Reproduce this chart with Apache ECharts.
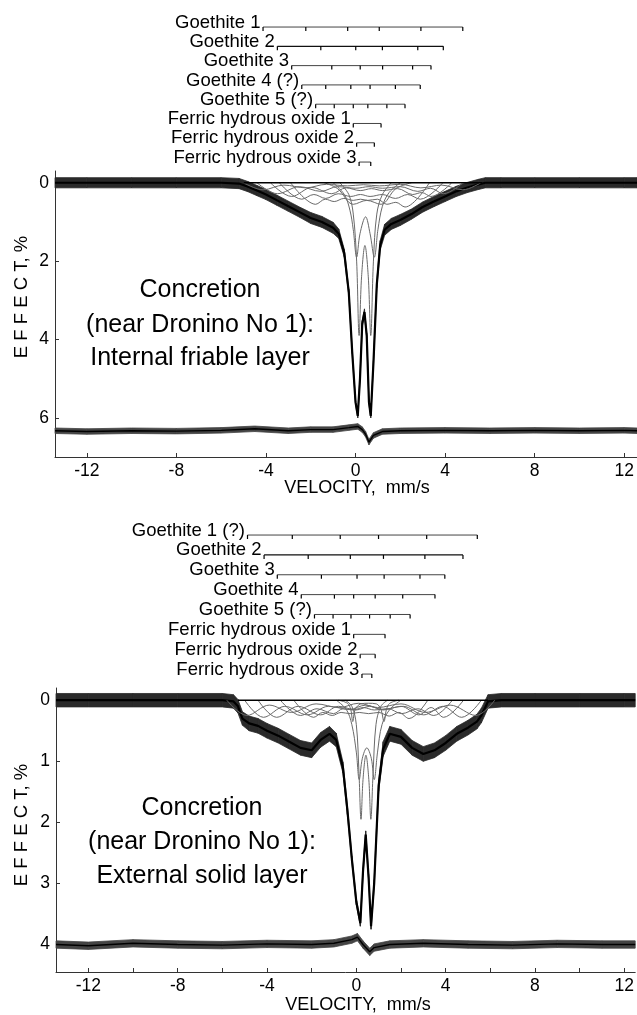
<!DOCTYPE html>
<html><head><meta charset="utf-8">
<script src="https://cdn.jsdelivr.net/npm/echarts@6/dist/echarts.min.js"></script>
<style>html,body{margin:0;padding:0;background:#fff}#c{width:637px;height:1015px}</style>
</head><body><div id="c"></div>
<script>
// ---------------- DATA ----------------
const velLabels = [-12, -8, -4, 0, 4, 8, 12];
const velTicks2 = [-12, -10, -8, -6, -4, -2, 0, 2, 4, 6, 8, 10, 12];
const effTicks1 = [0, 2, 4, 6];
const effTicks2 = [0, 1, 2, 3, 4];

// Stick diagrams (line positions, mm/s) — panel 1 (internal friable layer)
const stickNames1 = ['Goethite 1', 'Goethite 2', 'Goethite 3', 'Goethite 4 (?)', 'Goethite 5 (?)',
  'Ferric hydrous oxide 1', 'Ferric hydrous oxide 2', 'Ferric hydrous oxide 3'];
const p1G1 = [-4.13, -2.22, -0.35, 1.06, 2.92, 4.79];
const p1G2 = [-3.49, -1.55, 0.01, 1.20, 2.78, 3.92];
const p1G3 = [-2.85, -1.06, 0.21, 1.21, 2.55, 3.37];
const p1G4 = [-2.40, -1.33, -0.21, 0.65, 1.78, 2.89];
const p1G5 = [-1.78, -0.95, -0.10, 0.55, 1.40, 2.21];
const p1F1 = [-0.10, 1.14];
const p1F2 = [0.05, 0.84];
const p1F3 = [0.16, 0.68];

// Stick diagrams — panel 2 (external solid layer)
const stickNames2 = ['Goethite 1 (?)', 'Goethite 2', 'Goethite 3', 'Goethite 4', 'Goethite 5 (?)',
  'Ferric hydrous oxide 1', 'Ferric hydrous oxide 2', 'Ferric hydrous oxide 3'];
const p2G1 = [-4.90, -2.90, -0.76, 0.95, 3.10, 5.36];
const p2G2 = [-4.16, -2.19, -0.31, 1.17, 3.02, 4.72];
const p2G3 = [-3.57, -1.60, -0.01, 1.20, 2.80, 3.91];
const p2G4 = [-2.50, -1.02, -0.16, 0.80, 2.03, 3.47];
const p2G5 = [-1.91, -1.08, -0.28, 0.55, 1.47, 2.36];
const p2F1 = [-0.16, 1.24];
const p2F2 = [0.13, 0.80];
const p2F3 = [0.21, 0.65];

// Experimental spectrum, panel 1 (velocity, effect %) and scatter half-width of the points
const vel1 = [-13.42, -12, -10, -8, -6, -5.2, -4.8, -4.4, -4.0, -3.5, -3.0, -2.5, -2.0, -1.5, -1.0, -0.75, -0.5, -0.3, -0.15, 0.0, 0.1, 0.2, 0.3, 0.4, 0.5, 0.6, 0.68, 0.8, 0.95, 1.1, 1.3, 1.6, 2.0, 2.5, 3.0, 3.5, 4.0, 4.5, 5.0, 5.5, 5.8, 6.5, 8, 10, 12, 12.57];
const eff1 = [0, 0, 0, 0, 0, 0.02, 0.1, 0.2, 0.3, 0.45, 0.6, 0.75, 0.9, 1.0, 1.15, 1.3, 1.8, 2.8, 4.3, 5.6, 5.95, 5.0, 3.6, 3.3, 3.9, 5.6, 5.95, 4.6, 2.6, 1.6, 1.2, 1.05, 0.95, 0.8, 0.62, 0.48, 0.35, 0.22, 0.12, 0.04, 0, 0, 0, 0, 0, 0];
const noise1 = [0.13, 0.13, 0.13, 0.13, 0.13, 0.13, 0.13, 0.13, 0.13, 0.13, 0.13, 0.13, 0.14, 0.14, 0.14, 0.12, 0.1, 0.08, 0.06, 0.05, 0.05, 0.06, 0.08, 0.08, 0.06, 0.05, 0.05, 0.06, 0.08, 0.12, 0.14, 0.14, 0.14, 0.13, 0.13, 0.13, 0.13, 0.13, 0.13, 0.13, 0.13, 0.13, 0.13, 0.13, 0.13, 0.13];
// Residual, panel 1
const resV1 = [-13.42, -12, -10, -8, -6, -4.5, -3, -2, -1, -0.3, 0.1, 0.3, 0.45, 0.6, 0.8, 1.2, 2, 4, 6, 8, 10, 12, 12.57];
const res1 = [6.33, 6.35, 6.33, 6.34, 6.32, 6.28, 6.33, 6.30, 6.30, 6.25, 6.22, 6.30, 6.42, 6.62, 6.45, 6.35, 6.33, 6.32, 6.33, 6.32, 6.33, 6.32, 6.33];
const resN1 = 0.07;
// Sub-spectra, panel 1 (velocity / effect pairs read at line positions and between lines)
const c1G1v = [-5.0, -4.13, -3.2, -2.22, -1.3, -0.35, 0.35, 1.06, 2.0, 2.92, 3.85, 4.79, 5.6];
const c1G1d = [0, 0.18, 0.06, 0.13, 0.04, 0.08, 0.05, 0.08, 0.04, 0.13, 0.06, 0.18, 0];
const c1G2v = [-4.4, -3.49, -2.5, -1.55, -0.8, 0.01, 0.6, 1.2, 2.0, 2.78, 3.35, 3.92, 4.8];
const c1G2d = [0, 0.28, 0.10, 0.22, 0.10, 0.14, 0.10, 0.14, 0.10, 0.22, 0.14, 0.28, 0];
const c1G3v = [-3.8, -2.85, -1.95, -1.06, -0.42, 0.21, 0.71, 1.21, 1.88, 2.55, 2.96, 3.37, 4.3];
const c1G3d = [0, 0.35, 0.12, 0.28, 0.13, 0.20, 0.15, 0.20, 0.15, 0.30, 0.25, 0.35, 0];
const c1G4v = [-3.4, -2.4, -1.86, -1.33, -0.77, -0.21, 0.22, 0.65, 1.2, 1.78, 2.33, 2.89, 3.9];
const c1G4d = [0, 0.42, 0.30, 0.40, 0.28, 0.35, 0.30, 0.35, 0.30, 0.40, 0.30, 0.42, 0];
const c1G5v = [-2.9, -1.78, -1.35, -0.95, -0.52, -0.10, 0.22, 0.55, 0.98, 1.40, 1.80, 2.21, 3.3];
const c1G5d = [0, 0.55, 0.42, 0.48, 0.40, 0.45, 0.42, 0.45, 0.42, 0.55, 0.50, 0.62, 0];
const c1F1v = [-1.4, -0.8, -0.10, 0.5, 1.14, 1.8, 2.5];
const c1F1d = [0, 0.15, 0.55, 0.45, 0.55, 0.15, 0];
const c1F2v = [-1.0, -0.5, -0.25, -0.1, 0.05, 0.2, 0.45, 0.65, 0.84, 1.0, 1.2, 1.5, 2.0];
const c1F2d = [0, 0.3, 0.7, 1.2, 1.9, 1.3, 0.87, 1.3, 1.9, 1.2, 0.6, 0.25, 0];
const c1F3v = [-0.7, -0.3, -0.1, 0.05, 0.16, 0.27, 0.42, 0.57, 0.68, 0.8, 0.95, 1.2, 1.6];
const c1F3d = [0, 0.3, 0.8, 2.0, 3.9, 2.4, 1.6, 2.4, 3.9, 2.0, 0.8, 0.3, 0];
const base1v = [-5.0, 5.65];
const base1d = [0, 0];

// Experimental spectrum, panel 2
const vel2 = [-13.45, -12, -10, -8, -6, -5.5, -5.3, -5.1, -4.8, -4.4, -4.0, -3.5, -3.0, -2.5, -2.0, -1.6, -1.2, -0.9, -0.6, -0.4, -0.2, 0.0, 0.18, 0.3, 0.42, 0.55, 0.66, 0.8, 1.0, 1.2, 1.5, 2.0, 2.5, 3.0, 3.5, 4.0, 4.5, 5.0, 5.4, 5.6, 5.9, 6.5, 8, 10, 12, 12.49];
const eff2 = [0, 0, 0, 0, 0, 0.02, 0.1, 0.3, 0.38, 0.42, 0.5, 0.58, 0.68, 0.78, 0.82, 0.65, 0.55, 0.65, 1.1, 1.8, 2.6, 3.3, 3.65, 2.8, 2.2, 2.9, 3.7, 3.0, 1.4, 0.8, 0.55, 0.6, 0.78, 0.88, 0.82, 0.7, 0.55, 0.45, 0.35, 0.25, 0.02, 0, 0, 0, 0, 0];
const noise2 = [0.11, 0.11, 0.11, 0.11, 0.11, 0.11, 0.11, 0.11, 0.12, 0.12, 0.12, 0.12, 0.12, 0.12, 0.12, 0.12, 0.12, 0.11, 0.09, 0.07, 0.05, 0.05, 0.05, 0.06, 0.06, 0.05, 0.05, 0.06, 0.09, 0.12, 0.12, 0.12, 0.12, 0.12, 0.12, 0.12, 0.12, 0.12, 0.12, 0.12, 0.11, 0.11, 0.11, 0.11, 0.11, 0.11];
const resV2 = [-13.45, -12, -10, -8, -6, -4, -2, -1, -0.2, 0.05, 0.3, 0.6, 0.8, 1.5, 3, 5, 7, 9, 11, 12.49];
const res2 = [4.0, 4.02, 3.98, 4.0, 4.01, 3.99, 4.0, 3.98, 3.92, 3.88, 4.0, 4.12, 4.05, 4.0, 3.98, 4.0, 4.01, 3.99, 4.0, 4.0];
const resN2 = 0.06;
const c2G1v = [-5.8, -4.9, -3.9, -2.9, -1.8, -0.76, 0.1, 0.95, 2.0, 3.1, 4.2, 5.36, 6.2];
const c2G1d = [0, 0.25, 0.08, 0.20, 0.06, 0.12, 0.05, 0.12, 0.06, 0.20, 0.08, 0.25, 0];
const c2G2v = [-5.0, -4.16, -3.2, -2.19, -1.25, -0.31, 0.43, 1.17, 2.1, 3.02, 3.87, 4.72, 5.6];
const c2G2d = [0, 0.28, 0.10, 0.24, 0.10, 0.15, 0.08, 0.15, 0.10, 0.24, 0.10, 0.28, 0];
const c2G3v = [-4.4, -3.57, -2.6, -1.6, -0.8, -0.01, 0.6, 1.2, 2.0, 2.8, 3.35, 3.91, 4.8];
const c2G3d = [0, 0.28, 0.10, 0.24, 0.10, 0.16, 0.10, 0.16, 0.10, 0.24, 0.12, 0.28, 0];
const c2G4v = [-3.4, -2.5, -1.76, -1.02, -0.59, -0.16, 0.32, 0.8, 1.42, 2.03, 2.75, 3.47, 4.3];
const c2G4d = [0, 0.25, 0.14, 0.22, 0.14, 0.16, 0.12, 0.16, 0.14, 0.22, 0.14, 0.25, 0];
const c2G5v = [-2.8, -1.91, -1.5, -1.08, -0.68, -0.28, 0.13, 0.55, 1.0, 1.47, 1.9, 2.36, 3.2];
const c2G5d = [0, 0.28, 0.20, 0.25, 0.20, 0.22, 0.20, 0.22, 0.20, 0.26, 0.20, 0.30, 0];
const c2F1v = [-0.8, -0.4, -0.25, -0.16, -0.05, 0.2, 0.54, 0.9, 1.1, 1.24, 1.35, 1.5, 1.9];
const c2F1d = [0, 0.05, 0.15, 0.35, 0.15, 0.06, 0.05, 0.06, 0.15, 0.35, 0.15, 0.05, 0];
const c2F2v = [-0.9, -0.45, -0.2, 0.0, 0.13, 0.27, 0.47, 0.67, 0.8, 0.95, 1.15, 1.5, 2.0];
const c2F2d = [0, 0.15, 0.4, 0.85, 1.3, 0.95, 0.78, 0.95, 1.3, 0.85, 0.4, 0.15, 0];
const c2F3v = [-0.5, -0.2, 0.0, 0.12, 0.21, 0.3, 0.43, 0.56, 0.65, 0.75, 0.88, 1.1, 1.4];
const c2F3d = [0, 0.1, 0.4, 1.2, 1.95, 1.3, 0.9, 1.3, 1.95, 1.2, 0.4, 0.1, 0];
const base2v = [-5.3, 5.9];
const base2d = [0, 0];

const panelText1 = ['Concretion', '(near Dronino No 1):', 'Internal friable layer'];
const panelText2 = ['Concretion', '(near Dronino No 1):', 'External solid layer'];

// ---------------- BUILD ----------------
const FONT = '"Liberation Sans", Arial, sans-serif';
const zip = (a, b) => a.map((v, i) => [v, b[i]]);

function stickSeries(names, lists, xi, yi) {
  return lists.map((pos, i) => ({
    type: 'line', xAxisIndex: xi, yAxisIndex: yi, silent: true, animation: false,
    symbol: 'rect', symbolSize: [1.2, 4], symbolOffset: [0, 2],
    itemStyle: { color: '#000' },
    lineStyle: { color: i === 1 ? '#111' : '#444', width: i === 1 ? 1.4 : 1 },
    data: pos.map((p, k) => k === 0 ? {
      value: [p, i + 1],
      label: { show: true, position: 'left', distance: 2, formatter: names[i], fontFamily: FONT,
               fontSize: 18.5, color: '#000', verticalAlign: 'bottom', offset: [0, 3] }
    } : [p, i + 1])
  }));
}
function curve(v, d, xi, yi, opts) {
  return Object.assign({
    type: 'line', xAxisIndex: xi, yAxisIndex: yi, silent: true, animation: false,
    showSymbol: false, symbol: 'none', data: zip(v, d)
  }, opts);
}
// noisy data: a filled scatter band between (value - spread) and (value + spread), drawn
// segment by segment as a custom series, plus the centre line
function band(v, d, n, xi, yi, color, z, lw) {
  const nn = Array.isArray(n) ? n : v.map(() => n);
  const rows = [];
  for (let i = 0; i < v.length - 1; i++) {
    rows.push([v[i], d[i] - nn[i], d[i] + nn[i], v[i + 1], d[i + 1] - nn[i + 1], d[i + 1] + nn[i + 1]]);
  }
  return [
    { type: 'custom', xAxisIndex: xi, yAxisIndex: yi, silent: true, animation: false, z,
      encode: { x: [0, 3], y: [1, 2, 4, 5] }, data: rows,
      renderItem: (params, api) => {
        const a = api.coord([api.value(0), api.value(1)]);
        const b = api.coord([api.value(3), api.value(4)]);
        const c = api.coord([api.value(3), api.value(5)]);
        const e = api.coord([api.value(0), api.value(2)]);
        return { type: 'polygon', shape: { points: [a, b, c, e] },
                 style: { fill: color, stroke: color, lineWidth: 0.8 } };
      } },
    curve(v, d, xi, yi, { lineStyle: { color: '#000', width: lw }, z: z + 0.1 })
  ];
}
const comp = (v, d, xi, yi) => curve(v, d, xi, yi, { smooth: 0.35, lineStyle: { color: '#6a6a6a', width: 1 }, z: 4 });

function xAxisCfg(grid, min, max, show, ticks) {
  return {
    type: 'value', gridIndex: grid, min, max, show,
    axisLine: { show: true, onZero: false, lineStyle: { color: '#333', width: 1 } },
    axisTick: { show: true, inside: true, length: 4, customValues: ticks, lineStyle: { color: '#333' } },
    axisLabel: { show: true, customValues: velLabels, margin: 5, fontFamily: FONT, fontSize: 17.5, color: '#000',
                 formatter: v => String(v) },
    splitLine: { show: false }
  };
}
function yAxisCfg(grid, min, max, show, ticks) {
  return {
    type: 'value', gridIndex: grid, min, max, show, inverse: true,
    axisLine: { show: true, onZero: false, lineStyle: { color: '#333', width: 1 } },
    axisTick: { show: true, inside: true, length: 4, customValues: ticks, lineStyle: { color: '#333' } },
    axisLabel: { show: true, customValues: ticks, margin: 6, fontFamily: FONT, fontSize: 17.5, color: '#000',
                 formatter: v => String(v) },
    splitLine: { show: false }
  };
}
function hiddenY(grid) { return { type: 'value', gridIndex: grid, min: 0.5, max: 8.5, inverse: true, show: false }; }

const series = [];
// panel 1
series.push(...stickSeries(stickNames1, [p1G1, p1G2, p1G3, p1G4, p1G5, p1F1, p1F2, p1F3], 0, 0));
series.push(...band(vel1, eff1, noise1, 1, 1, '#2a2a2a', 2, 2.2));
series.push(...band(resV1, res1, resN1, 1, 1, '#444', 2, 1.4));
series.push(curve(base1v, base1d, 1, 1, { lineStyle: { color: '#000', width: 1.6 }, z: 5 }));
[[c1G1v, c1G1d], [c1G2v, c1G2d], [c1G3v, c1G3d], [c1G4v, c1G4d], [c1G5v, c1G5d],
 [c1F1v, c1F1d], [c1F2v, c1F2d], [c1F3v, c1F3d]].forEach(([v, d]) => series.push(comp(v, d, 1, 1)));
// panel 2
series.push(...stickSeries(stickNames2, [p2G1, p2G2, p2G3, p2G4, p2G5, p2F1, p2F2, p2F3], 2, 2));
series.push(...band(vel2, eff2, noise2, 3, 3, '#2a2a2a', 2, 2.2));
series.push(...band(resV2, res2, resN2, 3, 3, '#444', 2, 1.4));
series.push(curve(base2v, base2d, 3, 3, { lineStyle: { color: '#000', width: 1.6 }, z: 5 }));
[[c2G1v, c2G1d], [c2G2v, c2G2d], [c2G3v, c2G3d], [c2G4v, c2G4d], [c2G5v, c2G5d],
 [c2F1v, c2F1d], [c2F2v, c2F2d], [c2F3v, c2F3d]].forEach(([v, d]) => series.push(comp(v, d, 3, 3)));

function txt(text, x, y, size, rot) {
  return { type: 'text', x, y, rotation: rot || 0, silent: true,
    style: { text, fontFamily: FONT, fontSize: size, fill: '#000', align: 'center', verticalAlign: 'middle' } };
}
const yName = 'E F F E C T, %';
const graphic = [
  txt(panelText1[0], 200, 290, 25), txt(panelText1[1], 200, 325, 25), txt(panelText1[2], 200, 358, 25),
  txt(panelText2[0], 202, 808, 25), txt(panelText2[1], 202, 842, 25), txt(panelText2[2], 202, 876, 25),
  txt('VELOCITY,  mm/s', 357, 488, 18), txt('VELOCITY,  mm/s', 358, 1005, 18),
  txt(yName, 22, 297, 18.5, Math.PI / 2), txt(yName, 22, 825, 18.5, Math.PI / 2)
];

const option = {
  backgroundColor: '#fff',
  animation: false,
  grid: [
    { left: 55, right: 0, top: 17.4, height: 154.3 },
    { left: 55, right: 0, top: 171, height: 286 },
    { left: 56, right: 0, top: 525.1, height: 158.9 },
    { left: 56, right: 0, top: 688, height: 284 }
  ],
  xAxis: [
    { type: 'value', gridIndex: 0, min: -13.42, max: 12.57, show: false },
    xAxisCfg(1, -13.42, 12.57, true, velLabels),
    { type: 'value', gridIndex: 2, min: -13.45, max: 12.49, show: false },
    xAxisCfg(3, -13.45, 12.49, true, velTicks2)
  ],
  yAxis: [
    hiddenY(0),
    yAxisCfg(1, -0.3, 7, true, effTicks1),
    hiddenY(2),
    yAxisCfg(3, -0.2, 4.45, true, effTicks2)
  ],
  series,
  graphic
};
const chart = echarts.init(document.getElementById('c'), null, { renderer: 'canvas' });
chart.setOption(option);
</script></body></html>
